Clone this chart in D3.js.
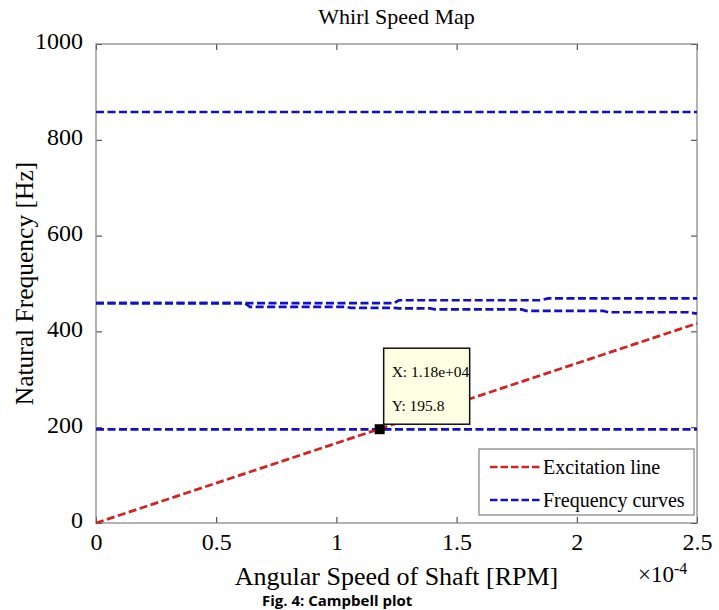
<!DOCTYPE html>
<html>
<head>
<meta charset="utf-8">
<script src="https://cdn.jsdelivr.net/npm/d3@7"></script>
<style>
  body { margin: 0; background: #fff; }
</style>
</head>
<body>
<div id="chart"></div>
<script>
// axis ticks
const rpmTicks = [0, 5000, 10000, 15000, 20000, 25000];
const freqTicks = [0, 200, 400, 600, 800, 1000];

// excitation line (1X)
const excitationRpm = [0, 25000];
const excitationHz = [0, 416.7];

// frequency curves
const mode1Rpm = [0, 25000];
const mode1Hz = [195.5, 195.5];

const mode2LowRpm = [0, 6200, 6400, 10400, 10600, 12400, 12600, 13900, 14100, 17700, 17900, 21100, 21300, 24600, 25000];
const mode2LowHz = [459, 459, 451, 451, 449, 449, 448, 448, 446, 446, 443, 443, 440, 440, 437];

const mode2HighRpm = [0, 12400, 12600, 18500, 18800, 25000];
const mode2HighHz = [459, 459, 465, 465, 469, 469];

const mode3Rpm = [0, 25000];
const mode3Hz = [858, 858];

// data tip
const tipRpm = 11800;
const tipHz = 195.8;

const legendLabels = ["Excitation line", "Frequency curves"];

const width = 719, height = 610;
const margin = { top: 44, right: 22, bottom: 87, left: 96 };
const blue = "#1010c8", red = "#d42121";
const serif = "'Liberation Serif', 'Times New Roman', serif";

const svg = d3.select("#chart").append("svg")
    .attr("width", width)
    .attr("height", height)
    .style("font-family", serif);

const x = d3.scaleLinear().domain([0, 25000]).range([margin.left, width - margin.right]);
const y = d3.scaleLinear().domain([0, 1000]).range([height - margin.bottom, margin.top]);

// axes (ticks point inward, like matlab)
const styleAxis = g => {
    g.attr("font-family", null).attr("font-size", null);
    g.select(".domain").remove();
    g.selectAll(".tick line").attr("stroke", "#333");
    g.selectAll(".tick text").attr("fill", "#000").style("font-size", "24px");
};

svg.append("g")
    .attr("transform", `translate(0,${height - margin.bottom})`)
    .call(d3.axisBottom(x).tickValues(rpmTicks).tickSize(-6).tickPadding(10)
        .tickFormat(d => String(d / 1e4)))
    .call(styleAxis);

svg.append("g")
    .attr("transform", `translate(0,${margin.top})`)
    .call(d3.axisTop(x).tickValues(rpmTicks).tickSize(-6).tickFormat(""))
    .call(styleAxis);

svg.append("g")
    .attr("transform", `translate(${margin.left},0)`)
    .call(d3.axisLeft(y).tickValues(freqTicks).tickSize(-6).tickPadding(13)
        .tickFormat(d => String(d)))
    .call(styleAxis)
    .selectAll(".tick text").attr("dy", "0.2em");

svg.append("g")
    .attr("transform", `translate(${width - margin.right},0)`)
    .call(d3.axisRight(y).tickValues(freqTicks).tickSize(-6).tickFormat(""))
    .call(styleAxis);

// frame
svg.append("rect")
    .attr("x", margin.left)
    .attr("y", margin.top)
    .attr("width", width - margin.left - margin.right)
    .attr("height", height - margin.top - margin.bottom)
    .attr("fill", "none")
    .attr("stroke", "#808080")
    .attr("stroke-width", 1.2);

// lines
const line = d3.line().x(d => x(d[0])).y(d => y(d[1]));
const pairs = (a, b) => a.map((v, i) => [v, b[i]]);

const curves = [
    pairs(mode1Rpm, mode1Hz),
    pairs(mode2LowRpm, mode2LowHz),
    pairs(mode2HighRpm, mode2HighHz),
    pairs(mode3Rpm, mode3Hz)
];

svg.append("g").selectAll("path")
    .data(curves)
    .join("path")
    .attr("d", line)
    .attr("fill", "none")
    .attr("stroke", blue)
    .attr("stroke-width", 2.7)
    .attr("stroke-dasharray", "8,3.5");

svg.append("path")
    .datum(pairs(excitationRpm, excitationHz))
    .attr("d", line)
    .attr("fill", "none")
    .attr("stroke", red)
    .attr("stroke-width", 2.7)
    .attr("stroke-dasharray", "8,3.5");

// data tip
const mx = x(tipRpm), my = y(tipHz);
svg.append("rect")
    .attr("x", mx - 5).attr("y", my - 5)
    .attr("width", 10).attr("height", 10)
    .attr("fill", "#000");

const tip = svg.append("g").attr("transform", `translate(${mx + 4},${my - 81})`);
tip.append("rect")
    .attr("width", 86).attr("height", 76)
    .attr("fill", "#ffffe3")
    .attr("stroke", "#111")
    .attr("stroke-width", 1.5);
tip.append("text").attr("x", 8).attr("y", 29).style("font-size", "15.5px")
    .text(`X: ${d3.format(".3")(tipRpm).replace("e+4", "e+04")}`);
tip.append("text").attr("x", 8).attr("y", 63).style("font-size", "15.5px")
    .text(`Y: ${tipHz}`);

// legend
const legend = svg.append("g").attr("transform", "translate(479,449)");
legend.append("rect")
    .attr("width", 215).attr("height", 66)
    .attr("fill", "#fff")
    .attr("stroke", "#808080")
    .attr("stroke-width", 1.2);
[red, blue].forEach((c, i) => {
    const yy = 18 + i * 33;
    legend.append("line")
        .attr("x1", 11).attr("x2", 63).attr("y1", yy).attr("y2", yy)
        .attr("stroke", c).attr("stroke-width", 2.4)
        .attr("stroke-dasharray", "7.5,3");
    legend.append("text")
        .attr("x", 64).attr("y", yy).attr("dy", "0.33em")
        .style("font-size", "20px")
        .text(legendLabels[i]);
});

// titles
svg.append("text")
    .attr("x", (margin.left + width - margin.right) / 2)
    .attr("y", 24)
    .attr("text-anchor", "middle")
    .style("font-size", "22px")
    .text("Whirl Speed Map");

svg.append("text")
    .attr("x", (margin.left + width - margin.right) / 2)
    .attr("y", 585)
    .attr("text-anchor", "middle")
    .style("font-size", "26px")
    .text("Angular Speed of Shaft [RPM]");

svg.append("text")
    .attr("transform", `translate(33,${(margin.top + height - margin.bottom) / 2}) rotate(-90)`)
    .attr("text-anchor", "middle")
    .style("font-size", "25.5px")
    .text("Natural Frequency [Hz]");

// exponent label
const expo = svg.append("text").attr("x", 638).attr("y", 582).style("font-size", "23px");
expo.append("tspan").text("×10");
expo.append("tspan").attr("dy", -8).style("font-size", "16px").text("-4");

// figure caption (sits at the bottom edge)
svg.append("text")
    .attr("x", 262)
    .attr("y", 606)
    .style("font-family", "'Open Sans', sans-serif")
    .style("font-weight", "bold")
    .style("font-size", "15px")
    .text("Fig. 4: Campbell plot");
</script>
</body>
</html>
